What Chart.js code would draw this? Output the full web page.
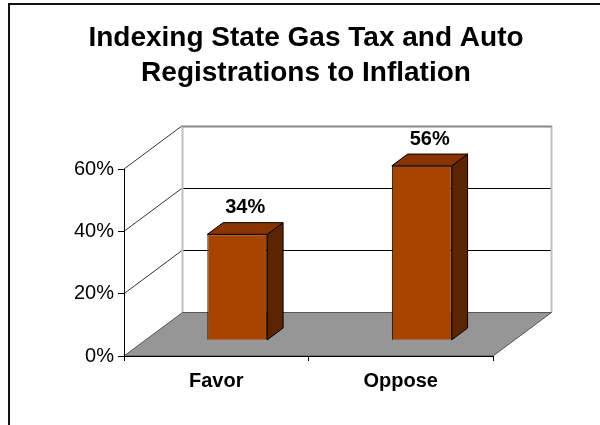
<!DOCTYPE html>
<html>
<head>
<meta charset="utf-8">
<script src="https://cdn.jsdelivr.net/npm/chart.js@4/dist/chart.umd.min.js"></script>
<style>
  html, body { margin: 0; padding: 0; background: #fff; }
  canvas { display: block; }
</style>
</head>
<body>
<canvas id="chart" width="600" height="425"></canvas>
<script>
const titleLines = ['Indexing State Gas Tax and Auto', 'Registrations to Inflation'];
const categories = ['Favor', 'Oppose'];
const values = [34, 56];
const yTicks = [0, 20, 40, 60];

// depth of the 3d box (back wall offset) and where the bars sit in it
const DX = 58.5, DY = -43.5;
const BAR_DEPTH = 0.36, BAR_THICK = 0.27;
const FONT = "'Liberation Sans', Arial, sans-serif";

const threeD = {
    id: 'threeD',
    beforeDraw(chart) {
        const ctx = chart.ctx;
        const { left, right } = chart.chartArea;
        const y = chart.scales.y;
        const y0 = y.getPixelForValue(yTicks[0]);
        const yTop = y.getPixelForValue(yTicks[yTicks.length - 1]);

        ctx.save();
        ctx.fillStyle = '#fff';
        ctx.fillRect(0, 0, chart.width, chart.height);

        // outer frame (left + top only visible)
        ctx.strokeStyle = '#111';
        ctx.lineWidth = 2;
        ctx.beginPath();
        ctx.moveTo(9, chart.height);
        ctx.lineTo(9, 4);
        ctx.lineTo(chart.width, 4);
        ctx.stroke();

        // back wall gridlines
        ctx.lineWidth = 1;
        ctx.strokeStyle = '#000';
        yTicks.slice(1, -1).forEach(v => {
            const py = Math.round(y.getPixelForValue(v) + DY) + 0.5;
            ctx.beginPath();
            ctx.moveTo(left + DX, py);
            ctx.lineTo(right + DX, py);
            ctx.stroke();
        });

        // side wall diagonals
        ctx.strokeStyle = '#333';
        yTicks.slice(1).forEach(v => {
            const py = y.getPixelForValue(v);
            ctx.beginPath();
            ctx.moveTo(left, py);
            ctx.lineTo(left + DX, py + DY);
            ctx.stroke();
        });

        // back wall edges
        ctx.strokeStyle = '#c0c0c0';
        ctx.lineWidth = 2;
        ctx.beginPath();
        ctx.moveTo(left + DX, y0 + DY);
        ctx.lineTo(left + DX, yTop + DY);
        ctx.moveTo(right + DX, yTop + DY);
        ctx.lineTo(right + DX, y0 + DY);
        ctx.stroke();
        ctx.strokeStyle = '#888';
        ctx.beginPath();
        ctx.moveTo(left + DX, Math.round(yTop + DY) + 0.5);
        ctx.lineTo(right + DX, Math.round(yTop + DY) + 0.5);
        ctx.stroke();

        // floor
        ctx.fillStyle = '#969696';
        ctx.strokeStyle = '#555';
        ctx.lineWidth = 1;
        ctx.beginPath();
        ctx.moveTo(left, y0);
        ctx.lineTo(left + DX, y0 + DY);
        ctx.lineTo(right + DX, y0 + DY);
        ctx.lineTo(right, y0);
        ctx.closePath();
        ctx.fill();
        ctx.stroke();
        ctx.restore();
    },
    beforeDatasetDraw(chart) {
        chart.ctx.save();
        chart.ctx.translate(BAR_DEPTH * DX, BAR_DEPTH * DY);
    },
    afterDatasetDraw(chart, args) {
        const ctx = chart.ctx;
        ctx.restore();
        const tx = BAR_DEPTH * DX, ty = BAR_DEPTH * DY;
        const bx = BAR_THICK * DX, by = BAR_THICK * DY;
        const meta = chart.getDatasetMeta(args.index);
        ctx.save();
        ctx.lineWidth = 1;
        ctx.strokeStyle = '#000';
        ctx.lineJoin = 'round';
        meta.data.forEach((bar, i) => {
            const p = bar.getProps(['x', 'y', 'base', 'width'], true);
            const l = p.x - p.width / 2 + tx, r = p.x + p.width / 2 + tx;
            const t = p.y + ty, b = p.base + ty;
            // side face
            ctx.fillStyle = '#5e2400';
            ctx.beginPath();
            ctx.moveTo(r, t);
            ctx.lineTo(r + bx, t + by);
            ctx.lineTo(r + bx, b + by);
            ctx.lineTo(r, b);
            ctx.closePath();
            ctx.fill();
            ctx.stroke();
            // top face
            ctx.fillStyle = '#883300';
            ctx.beginPath();
            ctx.moveTo(l, t);
            ctx.lineTo(l + bx, t + by);
            ctx.lineTo(r + bx, t + by);
            ctx.lineTo(r, t);
            ctx.closePath();
            ctx.fill();
            ctx.stroke();
            // value label
            ctx.fillStyle = '#000';
            ctx.font = 'bold 20px ' + FONT;
            ctx.textAlign = 'center';
            ctx.textBaseline = 'middle';
            ctx.fillText(values[i] + '%', (l + r + bx) / 2, t + by - 15);
        });
        ctx.restore();
    }
};

new Chart(document.getElementById('chart'), {
    type: 'bar',
    data: {
        labels: categories,
        datasets: [{
            data: values,
            backgroundColor: '#a84400',
            borderColor: '#000',
            borderWidth: 1,
            barPercentage: 0.325,
            categoryPercentage: 1
        }]
    },
    options: {
        responsive: false,
        animation: false,
        devicePixelRatio: 1,
        layout: { padding: { left: 12, right: 0, top: 0, bottom: 0 } },
        plugins: {
            legend: { display: false },
            tooltip: { enabled: false },
            title: {
                display: true,
                text: titleLines,
                color: '#000',
                font: { family: FONT, size: 28, weight: 'bold', lineHeight: 1.25 },
                padding: { top: 21, bottom: 78 }
            }
        },
        scales: {
            x: {
                offset: true,
                grid: { offset: true, drawOnChartArea: false, drawTicks: true, tickLength: 5, color: '#000' },
                border: { color: '#000', width: 1 },
                ticks: { color: '#000', font: { family: FONT, size: 20, weight: 'bold' }, padding: 8 },
                afterFit: s => { s.height = 69; }
            },
            y: {
                min: 0,
                max: 60,
                ticks: {
                    stepSize: 20,
                    color: '#000',
                    padding: 4,
                    font: { family: FONT, size: 20 },
                    callback: v => v + '%'
                },
                grid: { drawOnChartArea: false, drawTicks: true, tickLength: 6, color: '#000' },
                border: { color: '#000', width: 1 },
                afterFit: s => { s.width = 112; }
            },
            // empty right-hand axis that only reserves the room for the 3d depth
            y2: {
                position: 'right',
                display: true,
                ticks: { display: false },
                grid: { display: false },
                border: { display: false },
                afterFit: s => { s.width = 107; }
            }
        }
    },
    plugins: [threeD]
});
</script>
</body>
</html>
